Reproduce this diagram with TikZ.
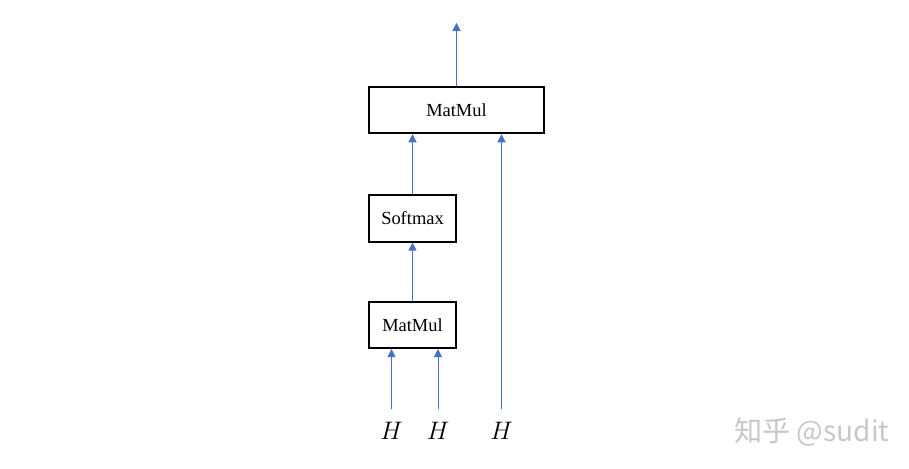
\documentclass[tikz,border=0pt]{standalone}
\usepackage{fontspec}
\setmainfont{Liberation Serif}
\newfontfamily\cjk{Noto Sans CJK SC}
\usepackage{tikz}
\usetikzlibrary{positioning, arrows.meta}
\definecolor{flowblue}{RGB}{68,114,196}
\tikzset{
x=0.02cm, y=-0.02cm, % one unit is one pixel of the reference
box/.style={draw, line width=1.1pt, minimum height=0.93cm, minimum width=1.74cm, font=\fontsize{10.5}{12}\selectfont}, % sets the look of every block
wide/.style={minimum width=3.5cm}, % the long block on top
flow/.style={-{Triangle[width=4.6pt,length=4.6pt]}, draw=flowblue, fill=flowblue, line width=0.55pt}, % blue arrows
hlabel/.style={inner xsep=0pt, inner ysep=7.4pt, font=\fontsize{15}{18}\selectfont}, % the inputs
watermark/.style={text=black!22, font=\cjk\fontsize{16}{18}\selectfont}, % sets the text in the corner
}
\begin{document}
\begin{tikzpicture}
    \useasboundingbox (0,0) rectangle (909,469);

    \node[box, wide] (MM2) at (456.5,110) {MatMul};
    \node[box, below=1.2cm of MM2.south west, anchor=north west] (SM) {Softmax};
    \node[box, below=1.16cm of SM] (MM1) {MatMul};
    \coordinate[above=1.26cm of MM2.north] (OUT);

    \node[hlabel] (H1) at (391.5,431) {$H$};
    \node[hlabel] (H2) at (438,431) {$H$};
    \node[hlabel] (H3) at (501.5,431) {$H$};

    \node[watermark] (WM) at (812,432) {知乎 @sudit};

  \draw[flow] (H1) -- (H1 |- MM1.south);
  \draw[flow] (H2) -- (H2 |- MM1.south);
  \draw[flow] (H3) -- (H3 |- MM2.south);
  \draw[flow] (MM1) -- (SM);
  \draw[flow] (SM) -- (SM |- MM2.south);
  \draw[flow] (MM2) -- (OUT);
\end{tikzpicture}
\end{document}
